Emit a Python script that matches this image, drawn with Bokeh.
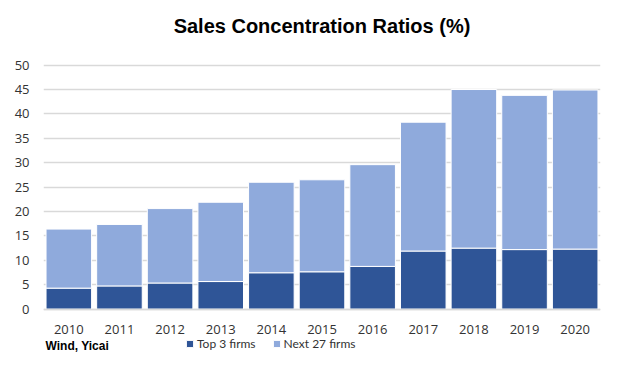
from bokeh.plotting import figure
from bokeh.models import Range1d, FactorRange, Legend, LegendItem, Label
from bokeh.embed import file_html
from bokeh.resources import INLINE

years = ["2010", "2011", "2012", "2013", "2014", "2015", "2016", "2017", "2018", "2019", "2020"]
top3 = [4.3, 4.75, 5.35, 5.65, 7.45, 7.65, 8.75, 11.9, 12.5, 12.2, 12.3]
next27 = [12.1, 12.6, 15.25, 16.25, 18.55, 18.85, 20.85, 26.4, 32.5, 31.6, 32.6]
y_ticks = [0, 5, 10, 15, 20, 25, 30, 35, 40, 45, 50]
series = ["top3", "next27"]
series_labels = ["Top 3 firms", "Next 27 firms"]
colors = ["#2F5597", "#8FAADC"]

# frame extends below zero so the legend/source row stays inside the frame
p = figure(width=605, height=354, output_backend="svg", toolbar_location=None,
           x_range=FactorRange(*years, range_padding=0), y_range=Range1d(-9.3, 53.2),
           min_border_left=43, min_border_right=5, min_border_top=0, min_border_bottom=0)
p.title.text = "Sales Concentration Ratios (%)"
p.title.align = "center"
p.title.text_font = "Liberation Sans"
p.title.text_font_size = "20px"
p.title.text_font_style = "bold"
p.title.text_color = "#000000"
p.title.standoff = 25

src = dict(years=years, top3=top3, next27=next27)
rs = p.vbar_stack(series, x="years", width=0.9, color=colors, line_color="white",
                  line_width=1, source=src)

p.xgrid.grid_line_color = None
p.ygrid.grid_line_color = "#D9D9D9"
p.ygrid.grid_line_width = 1.5
p.ygrid.ticker = y_ticks
p.outline_line_color = None
p.yaxis.ticker = y_ticks
for ax in (p.xaxis, p.yaxis):
    ax.major_tick_line_color = None
    ax.minor_tick_line_color = None
    ax.major_label_text_font = "Open Sans"
    ax.major_label_text_font_size = "13px"
    ax.major_label_text_color = "#333333"
p.yaxis.axis_line_color = None
p.xaxis.fixed_location = 0
p.xaxis.axis_line_color = "#D9D9D9"
p.xaxis.axis_line_width = 1.5
p.xaxis.major_label_standoff = 10
p.yaxis.major_label_standoff = 8

legend = Legend(items=[LegendItem(label=series_labels[i], renderers=[rs[i]]) for i in range(2)],
                orientation="horizontal", location=(139, 0), border_line_alpha=0,
                background_fill_alpha=0, label_text_font="Lato",
                label_text_font_size="12px", label_text_color="#333333",
                glyph_width=9, glyph_height=9, label_standoff=3, label_height=14,
                spacing=16, padding=3, margin=0)
p.add_layout(legend)

source_note = Label(x=0, y=-7.64, text="Wind, Yicai", text_baseline="middle",
                    text_font="Liberation Sans", text_font_style="bold",
                    text_font_size="12px", text_color="#000000", x_offset=2)
p.add_layout(source_note)

open("out.html", "w").write(file_html(p, INLINE))
